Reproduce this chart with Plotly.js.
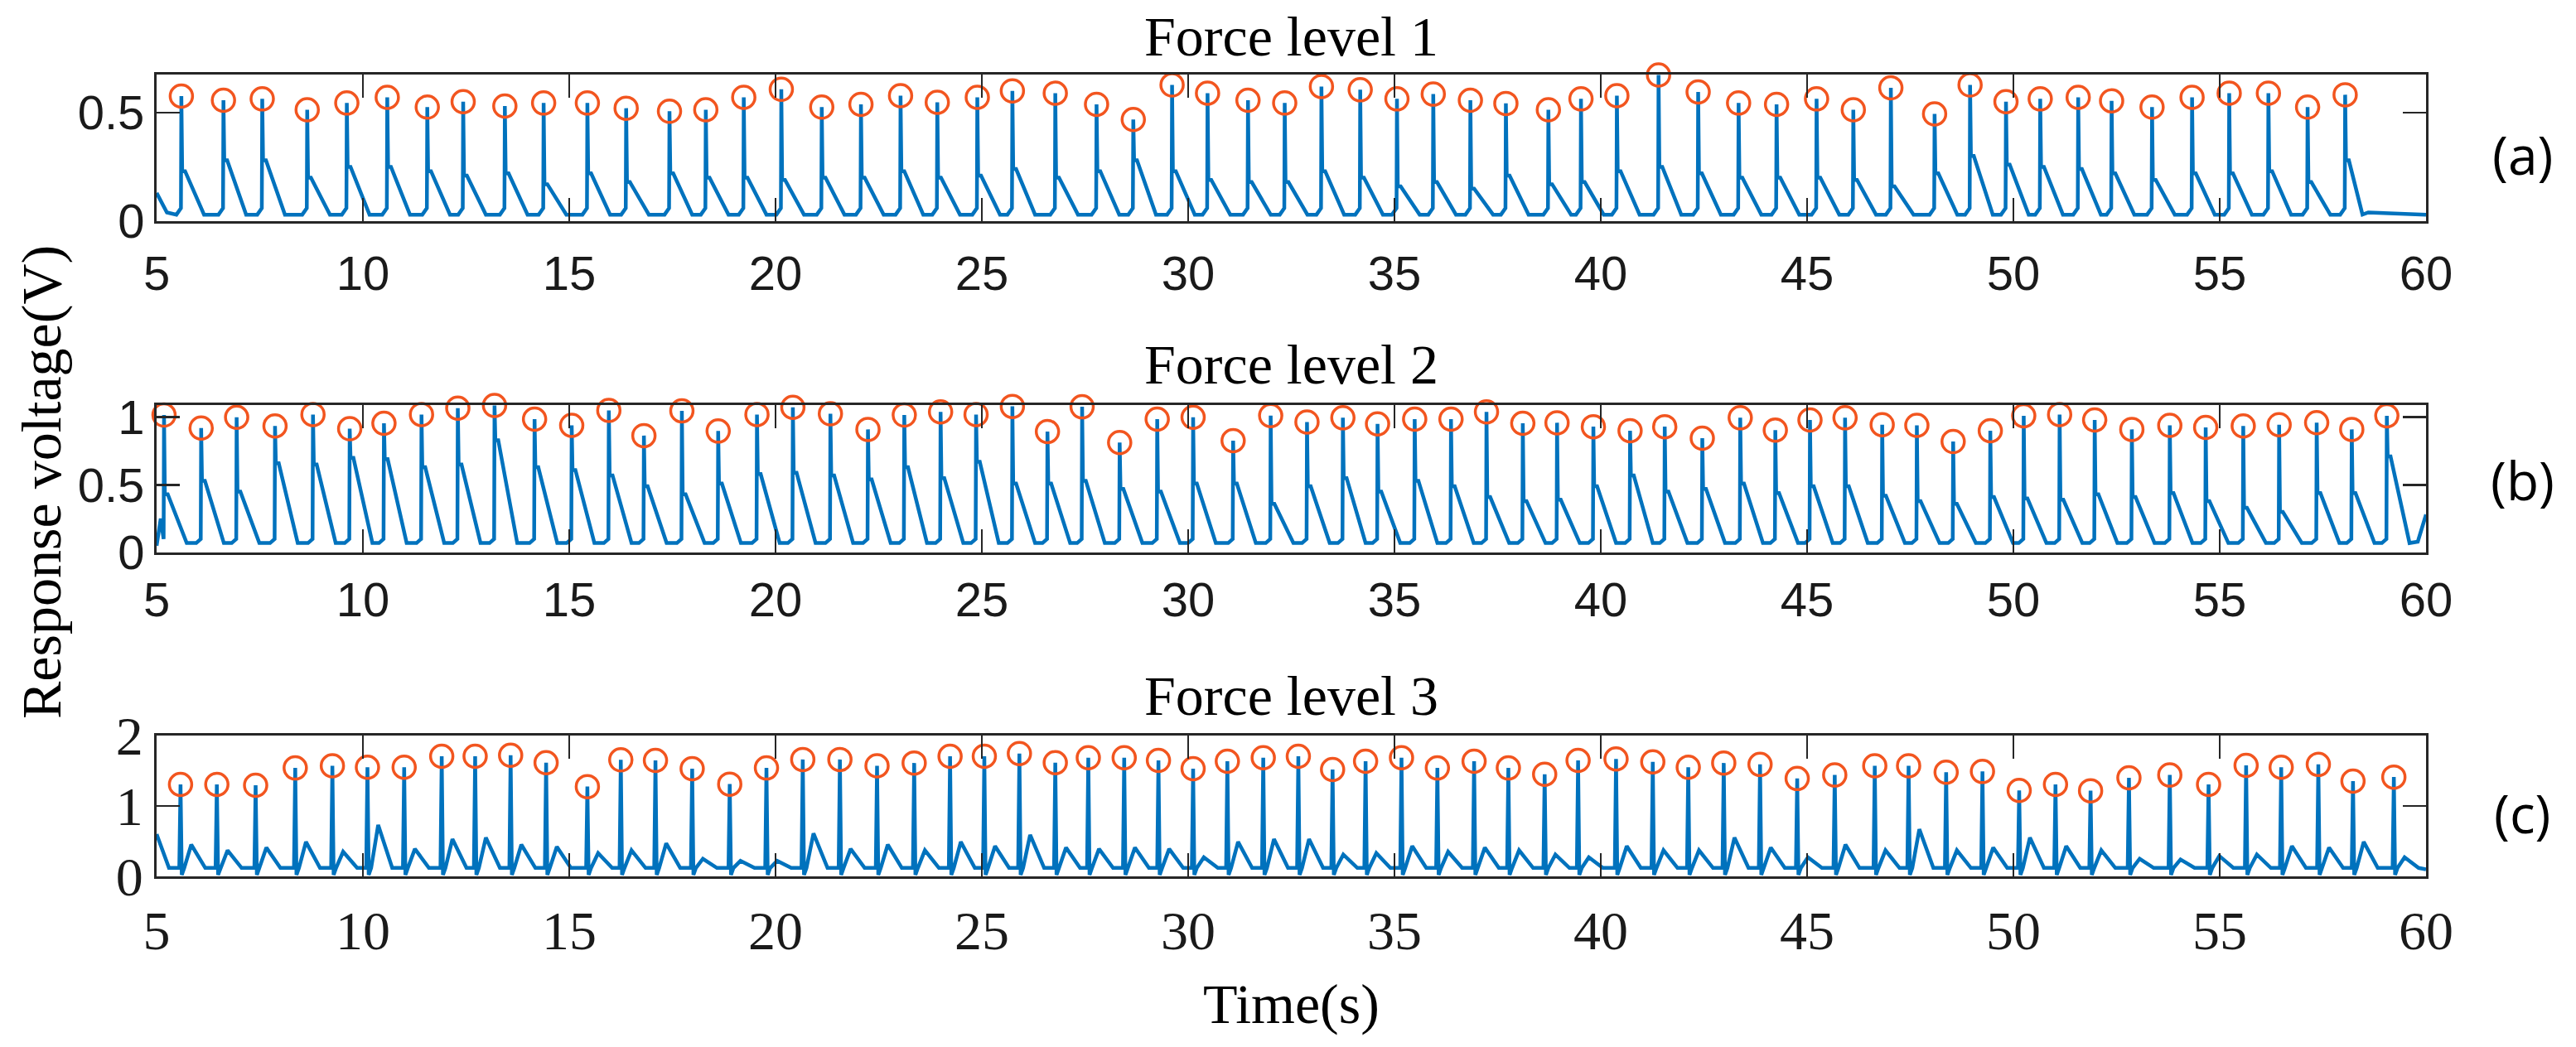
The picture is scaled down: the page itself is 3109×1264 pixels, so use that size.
<!DOCTYPE html>
<html>
<head>
<meta charset="utf-8">
<script src="https://cdn.plot.ly/plotly-3.0.1.min.js"></script>
<style>
  html, body { margin: 0; padding: 0; background: #ffffff; }
  #chart { width: 3109px; height: 1264px; }
</style>
</head>
<body>
<div id="chart"></div>
<script>
// ---------------- DATA ----------------
const xTicks = [5, 10, 15, 20, 25, 30, 35, 40, 45, 50, 55, 60];
const yTicksA = [0, 0.5];
const yTickTextA = ['0', '0.5'];
const yTicksB = [0, 0.5, 1];
const yTickTextB = ['0', '0.5', '1'];
const yTicksC = [0, 1, 2];
const yTickTextC = ['0', '1', '2'];

const panelTitles = ['Force level 1', 'Force level 2', 'Force level 3'];
const panelTags = ['(a)', '(b)', '(c)'];
const xTitle = 'Time(s)';
const yTitle = 'Response voltage(V)';

// Force level 1: detected peaks
const peakTA = [5.60, 6.62, 7.56, 8.65, 9.61, 10.59, 11.56, 12.43, 13.44, 14.38,
  15.44, 16.38, 17.43, 18.31, 19.23, 20.14, 21.12, 22.07, 23.03, 23.92,
  24.89, 25.74, 26.78, 27.78, 28.67, 29.61, 30.47, 31.45, 32.34, 33.23,
  34.17, 35.06, 35.94, 36.84, 37.70, 38.73, 39.52, 40.39, 41.40, 42.36,
  43.34, 44.26, 45.23, 46.12, 47.03, 48.09, 48.95, 49.82, 50.65, 51.57,
  52.38, 53.36, 54.33, 55.23, 56.18, 57.13, 58.04];
const peakVA = [0.576, 0.557, 0.563, 0.513, 0.544, 0.570, 0.525, 0.550, 0.530, 0.544,
  0.544, 0.520, 0.506, 0.513, 0.570, 0.607, 0.525, 0.538, 0.578, 0.547,
  0.570, 0.600, 0.589, 0.538, 0.468, 0.627, 0.589, 0.557, 0.544, 0.620,
  0.605, 0.563, 0.585, 0.557, 0.542, 0.513, 0.563, 0.578, 0.673, 0.595,
  0.544, 0.538, 0.563, 0.513, 0.614, 0.494, 0.627, 0.550, 0.563, 0.570,
  0.554, 0.525, 0.570, 0.589, 0.589, 0.525, 0.582];
// level of the signal just after each spike
const humpA = [0.23, 0.28, 0.28, 0.20, 0.25, 0.25, 0.23, 0.21, 0.22, 0.17,
  0.22, 0.18, 0.22, 0.20, 0.20, 0.19, 0.20, 0.20, 0.23, 0.20,
  0.21, 0.24, 0.20, 0.23, 0.28, 0.23, 0.19, 0.18, 0.18, 0.23,
  0.20, 0.16, 0.18, 0.15, 0.21, 0.17, 0.18, 0.23, 0.25, 0.22,
  0.20, 0.20, 0.20, 0.19, 0.16, 0.22, 0.30, 0.26, 0.25, 0.24,
  0.22, 0.19, 0.22, 0.22, 0.23, 0.18, 0.28];
const valleyA = 0.03;
const edgeTA = [5.0, 5.25, 58.6, 60.0];
const edgeVA = [0.13, 0.04, 0.04, 0.03];

// Force level 2: detected peaks
const peakTB = [5.18, 6.08, 6.94, 7.87, 8.79, 9.68, 10.51, 11.42, 12.30, 13.19,
  14.16, 15.06, 15.96, 16.81, 17.73, 18.61, 19.55, 20.42, 21.33, 22.24,
  23.12, 24.00, 24.86, 25.74, 26.59, 27.43, 28.34, 29.25, 30.12, 31.09,
  32.00, 32.88, 33.75, 34.59, 35.49, 36.37, 37.23, 38.11, 38.94, 39.82,
  40.71, 41.55, 42.46, 43.38, 44.23, 45.07, 45.92, 46.82, 47.66, 48.54,
  49.44, 50.25, 51.12, 51.97, 52.87, 53.79, 54.66, 55.57, 56.44, 57.35,
  58.20, 59.05];
const peakVB = [1.016, 0.920, 1.000, 0.935, 1.020, 0.915, 0.955, 1.020, 1.067, 1.087,
  0.986, 0.940, 1.050, 0.864, 1.047, 0.898, 1.020, 1.073, 1.026, 0.910,
  1.016, 1.040, 1.020, 1.080, 0.894, 1.077, 0.813, 0.986, 1.000, 0.827,
  1.012, 0.965, 0.996, 0.951, 0.986, 0.986, 1.040, 0.955, 0.959, 0.930,
  0.900, 0.930, 0.845, 0.996, 0.905, 0.980, 0.996, 0.945, 0.940, 0.820,
  0.900, 1.010, 1.020, 0.980, 0.910, 0.940, 0.925, 0.935, 0.945, 0.960,
  0.910, 1.010];
const humpB = [0.43, 0.53, 0.45, 0.66, 0.65, 0.70, 0.69, 0.63, 0.65, 0.83,
  0.63, 0.61, 0.57, 0.49, 0.43, 0.51, 0.58, 0.59, 0.57, 0.54,
  0.63, 0.55, 0.67, 0.51, 0.51, 0.53, 0.47, 0.45, 0.51, 0.51,
  0.36, 0.49, 0.55, 0.45, 0.53, 0.49, 0.41, 0.38, 0.39, 0.49,
  0.57, 0.45, 0.47, 0.51, 0.44, 0.49, 0.49, 0.42, 0.38, 0.36,
  0.41, 0.40, 0.39, 0.43, 0.41, 0.44, 0.38, 0.33, 0.30, 0.44,
  0.44, 0.71];
const valleyB = 0.07;
const edgeTB = [5.0, 5.1, 59.8, 60.0];
const edgeVB = [0.05, 0.25, 0.08, 0.28];

// Force level 3: detected peaks
const peakTC = [5.58, 6.46, 7.40, 8.36, 9.26, 10.11, 11.00, 11.91, 12.72, 13.58,
  14.44, 15.44, 16.25, 17.09, 17.98, 18.89, 19.78, 20.66, 21.56, 22.46,
  23.36, 24.23, 25.06, 25.91, 26.78, 27.58, 28.45, 29.28, 30.12, 30.95,
  31.82, 32.67, 33.50, 34.30, 35.17, 36.04, 36.93, 37.76, 38.64, 39.45,
  40.37, 41.26, 42.12, 42.98, 43.86, 44.76, 45.67, 46.64, 47.46, 48.37,
  49.25, 50.14, 51.02, 51.87, 52.80, 53.79, 54.73, 55.64, 56.49, 57.39,
  58.23, 59.22];
const peakVC = [1.306, 1.306, 1.294, 1.540, 1.570, 1.550, 1.550, 1.706, 1.706, 1.720,
  1.615, 1.275, 1.655, 1.647, 1.530, 1.310, 1.540, 1.660, 1.660, 1.570,
  1.610, 1.706, 1.706, 1.745, 1.615, 1.686, 1.686, 1.647, 1.530, 1.635,
  1.686, 1.706, 1.518, 1.635, 1.686, 1.540, 1.635, 1.540, 1.450, 1.647,
  1.667, 1.627, 1.550, 1.610, 1.590, 1.390, 1.440, 1.570, 1.570, 1.480,
  1.490, 1.220, 1.306, 1.216, 1.400, 1.440, 1.306, 1.576, 1.550, 1.590,
  1.353, 1.410];
const humpC = [0.45, 0.37, 0.41, 0.49, 0.35, 0.73, 0.39, 0.53, 0.55, 0.45,
  0.42, 0.33, 0.37, 0.47, 0.25, 0.22, 0.22, 0.61, 0.39, 0.45,
  0.37, 0.49, 0.43, 0.59, 0.41, 0.39, 0.41, 0.39, 0.27, 0.49,
  0.53, 0.53, 0.31, 0.33, 0.43, 0.35, 0.41, 0.37, 0.31, 0.27,
  0.43, 0.37, 0.37, 0.55, 0.41, 0.27, 0.45, 0.37, 0.67, 0.37,
  0.41, 0.55, 0.43, 0.37, 0.25, 0.24, 0.29, 0.31, 0.43, 0.41,
  0.49, 0.27];
const baseC = 0.12;
const dipC = 0.02;
const edgeTC = [5.0, 5.3, 60.0];
const edgeVC = [0.60, 0.12, 0.10];

// ---------------- Signal vertices built from the read values ----------------
function signalAB(peakT, peakV, hump, valley, edgeT, edgeV) {
  const x = [edgeT[0], edgeT[1]], y = [edgeV[0], edgeV[1]];
  for (let i = 0; i < peakT.length; i++) {
    const t = peakT[i];
    const next = i + 1 < peakT.length ? peakT[i + 1] : edgeT[2];
    if (t - 0.12 > x[x.length - 1]) { x.push(t - 0.12); y.push(valley); }
    x.push(t - 0.01); y.push(valley + 0.03);
    x.push(t); y.push(peakV[i]);
    x.push(t + 0.02); y.push(hump[i]);
    x.push(t + 0.09); y.push(hump[i]);
    const endDecay = Math.min(t + 0.55, next - 0.14);
    x.push(endDecay); y.push(valley);
  }
  x.push(edgeT[2]); y.push(edgeV[2]);
  x.push(edgeT[3]); y.push(edgeV[3]);
  return { x: x, y: y };
}
function signalC(peakT, peakV, hump, base, dip, edgeT, edgeV) {
  const x = [edgeT[0], edgeT[1]], y = [edgeV[0], edgeV[1]];
  for (let i = 0; i < peakT.length; i++) {
    const t = peakT[i];
    const next = i + 1 < peakT.length ? peakT[i + 1] : edgeT[2];
    x.push(t - 0.03); y.push(base);
    x.push(t); y.push(peakV[i]);
    x.push(t + 0.03); y.push(dip);
    x.push(t + 0.09); y.push(base);
    x.push(t + 0.26); y.push(hump[i]);
    x.push(Math.min(t + 0.6, next - 0.06)); y.push(base);
  }
  x.push(edgeT[2]); y.push(edgeV[2]);
  return { x: x, y: y };
}

const sigA = signalAB(peakTA, peakVA, humpA, valleyA, edgeTA, edgeVA);
const sigB = signalAB(peakTB, peakVB, humpB, valleyB, edgeTB, edgeVB);
const sigC = signalC(peakTC, peakVC, humpC, baseC, dipC, edgeTC, edgeVC);

// ---------------- Styling ----------------
const W = 3109, H = 1264;
const BLUE = '#0072BD';
const ORANGE = '#F2551F';
const AXC = '#262626';
const px = v => v / W;          // pixel -> paper x
const py = v => 1 - v / H;      // pixel -> paper y

function lineTrace(sig, xa, ya) {
  return { x: sig.x, y: sig.y, xaxis: xa, yaxis: ya, type: 'scatter', mode: 'lines',
    line: { color: BLUE, width: 4.5 }, hoverinfo: 'skip', showlegend: false };
}
function peakTrace(t, v, xa, ya) {
  return { x: t, y: v, xaxis: xa, yaxis: ya, type: 'scatter', mode: 'markers',
    cliponaxis: false,
    marker: { symbol: 'circle-open', size: 27, color: ORANGE, line: { color: ORANGE, width: 3.5 } },
    showlegend: false };
}

const data = [
  lineTrace(sigA, 'x', 'y'), peakTrace(peakTA, peakVA, 'x', 'y'),
  lineTrace(sigB, 'x2', 'y2'), peakTrace(peakTB, peakVB, 'x2', 'y2'),
  lineTrace(sigC, 'x3', 'y3'), peakTrace(peakTC, peakVC, 'x3', 'y3')
];

const sansTick = { family: 'Liberation Sans, Arial, sans-serif', size: 58, color: '#1a1a1a' };
const serifTick = { family: 'Liberation Serif, Times New Roman, serif', size: 66, color: '#1a1a1a' };
const xDomain = [px(189), px(2928)];

function xAxis(font, anchor, standoff) {
  return { domain: xDomain, anchor: anchor, range: [5, 60], tickmode: 'array',
    tickvals: xTicks, ticktext: xTicks.map(String), ticks: 'inside', ticklen: 28,
    tickwidth: 2.5, tickcolor: AXC, showline: true, linecolor: AXC, linewidth: 3,
    mirror: 'allticks', showgrid: false, zeroline: false, tickfont: font,
    ticklabelstandoff: standoff };
}
function yAxis(domain, range, vals, texts, font, anchor, standoff) {
  return { domain: domain, anchor: anchor, range: range, tickmode: 'array',
    tickvals: vals, ticktext: texts, ticks: 'inside', ticklen: 28,
    tickwidth: 2.5, tickcolor: AXC, showline: true, linecolor: AXC, linewidth: 3,
    mirror: 'allticks', showgrid: false, zeroline: false, tickfont: font,
    ticklabelstandoff: standoff };
}

const titleFont = { family: 'Liberation Serif, Times New Roman, serif', size: 68, color: '#000000' };
const tagFont = { family: 'Open Sans, sans-serif', size: 64, color: '#000000' };
const cx = px((189 + 2928) / 2);

const layout = {
  width: W, height: H, autosize: false,
  margin: { l: 0, r: 0, t: 0, b: 0, pad: 0 },
  paper_bgcolor: '#ffffff', plot_bgcolor: '#ffffff',
  showlegend: false,
  xaxis: xAxis(sansTick, 'y', 10),
  xaxis2: xAxis(sansTick, 'y2', 4),
  xaxis3: xAxis(serifTick, 'y3', 6),
  yaxis: yAxis([py(267), py(90)], [0, 0.675], yTicksA, yTickTextA, sansTick, 'x', 0),
  yaxis2: yAxis([py(667), py(489)], [0, 1.09], yTicksB, yTickTextB, sansTick, 'x2', 0),
  yaxis3: yAxis([py(1058), py(888)], [0, 2], yTicksC, yTickTextC, serifTick, 'x3', 0),
  annotations: [
    { text: panelTitles[0], x: cx, y: py(44), xref: 'paper', yref: 'paper', showarrow: false, xanchor: 'center', yanchor: 'middle', font: titleFont },
    { text: panelTitles[1], x: cx, y: py(440), xref: 'paper', yref: 'paper', showarrow: false, xanchor: 'center', yanchor: 'middle', font: titleFont },
    { text: panelTitles[2], x: cx, y: py(840), xref: 'paper', yref: 'paper', showarrow: false, xanchor: 'center', yanchor: 'middle', font: titleFont },
    { text: panelTags[0], x: px(3044), y: py(186), xref: 'paper', yref: 'paper', showarrow: false, xanchor: 'center', yanchor: 'middle', font: tagFont },
    { text: panelTags[1], x: px(3044), y: py(579), xref: 'paper', yref: 'paper', showarrow: false, xanchor: 'center', yanchor: 'middle', font: tagFont },
    { text: panelTags[2], x: px(3044), y: py(981), xref: 'paper', yref: 'paper', showarrow: false, xanchor: 'center', yanchor: 'middle', font: tagFont },
    { text: xTitle, x: cx, y: py(1212), xref: 'paper', yref: 'paper', showarrow: false, xanchor: 'center', yanchor: 'middle', font: titleFont },
    { text: yTitle, x: px(50), y: py(582), xref: 'paper', yref: 'paper', showarrow: false, xanchor: 'center', yanchor: 'middle', textangle: -90, font: titleFont }
  ]
};

Plotly.newPlot('chart', data, layout, { staticPlot: true, displayModeBar: false });
</script>
</body>
</html>
